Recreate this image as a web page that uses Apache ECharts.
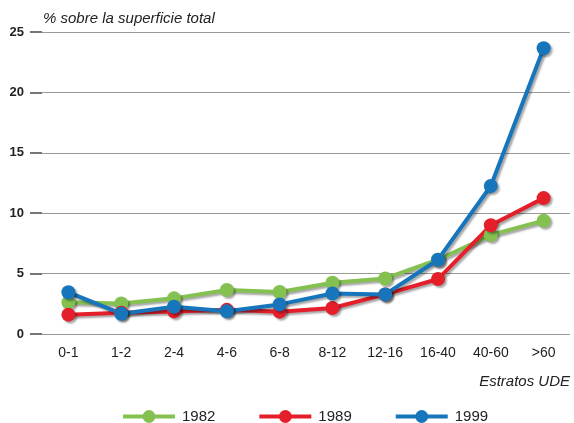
<!DOCTYPE html>
<html><head><meta charset="utf-8">
<script src="https://cdn.jsdelivr.net/npm/echarts@6/dist/echarts.min.js"></script>
<style>html,body{margin:0;padding:0;background:#fff}#c{width:574px;height:423px}</style>
</head><body><div id="c"></div>
<script>
const categories = ['0-1','1-2','2-4','4-6','6-8','8-12','12-16','16-40','40-60','>60'];
const s1982 = [2.62, 2.52, 2.95, 3.64, 3.48, 4.25, 4.6, 6.15, 8.2, 9.38];
const s1989 = [1.6, 1.76, 1.87, 2.0, 1.85, 2.15, 3.28, 4.55, 9.0, 11.25];
const s1999 = [3.45, 1.68, 2.26, 1.88, 2.45, 3.35, 3.28, 6.15, 12.25, 23.65];
const yTicks = [0, 5, 10, 15, 20, 25];
const names = ['1982','1989','1999'];
const colors = ['#84c151','#e41f2a','#1775bb'];
const chart = echarts.init(document.getElementById('c'), null, {renderer:'canvas'});
const shadow = {shadowColor:'rgba(0,0,0,0.35)', shadowBlur:2, shadowOffsetX:2, shadowOffsetY:2};
const mk = (name, data, color) => ({
  name, type:'line', data, symbol:'circle', symbolSize:14,
  lineStyle:Object.assign({width:4, color}, shadow),
  itemStyle:Object.assign({color}, shadow),
  emphasis:{disabled:true}
});
chart.setOption({
  animation:false,
  textStyle:{fontFamily:'Liberation Sans, Arial, sans-serif'},
  grid:{left:42, right:4, top:32, bottom:89},
  xAxis:{type:'category', data:categories, boundaryGap:true,
    axisLine:{show:false}, axisTick:{show:false},
    axisLabel:{color:'#222', fontSize:14, margin:12}},
  yAxis:{type:'value', min:yTicks[0], max:yTicks[yTicks.length-1], interval:5,
    axisLine:{show:false},
    axisTick:{show:true, length:12, lineStyle:{color:'#777', width:2}},
    axisLabel:{color:'#222', fontSize:13, fontWeight:'bold', margin:18},
    splitLine:{lineStyle:{color:'#999', width:1}}},
  legend:{top:409, left:121, padding:0, itemWidth:52, itemHeight:16, itemGap:42,
    data:names, textStyle:{fontSize:15, color:'#222', padding:[0,0,0,2]},
    itemStyle:{shadowBlur:0, shadowOffsetX:0, shadowOffsetY:0, shadowColor:'transparent'},
    lineStyle:{width:4, shadowBlur:0, shadowOffsetX:0, shadowOffsetY:0, shadowColor:'transparent'}},
  graphic:[
    {type:'text', left:43, top:11, style:{text:'% sobre la superficie total', font:'italic 15px Liberation Sans, Arial, sans-serif', fill:'#222'}},
    {type:'text', right:4, top:374, style:{text:'Estratos UDE', font:'italic 15px Liberation Sans, Arial, sans-serif', fill:'#222'}}
  ],
  series:[mk(names[0], s1982, colors[0]), mk(names[1], s1989, colors[1]), mk(names[2], s1999, colors[2])]
});
</script></body></html>
